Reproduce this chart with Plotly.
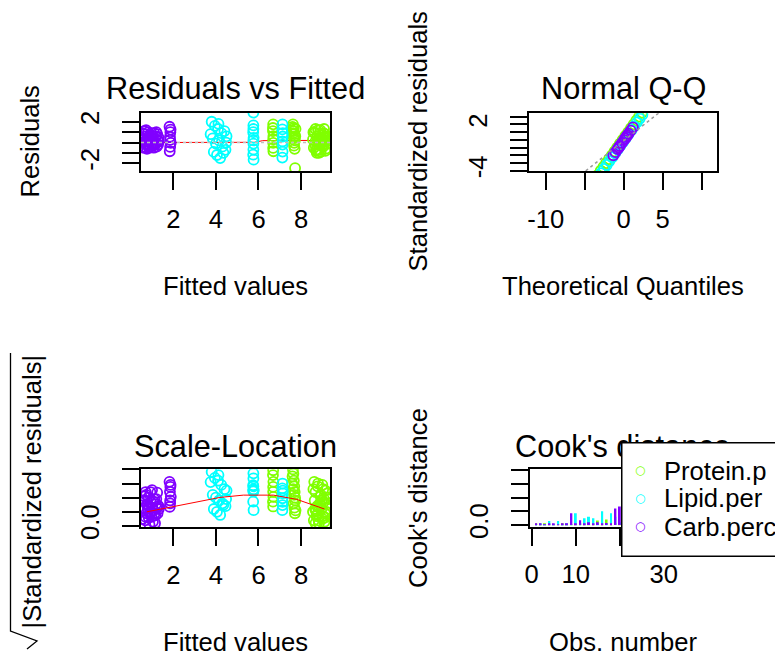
import plotly.graph_objects as go

# ---------------------------------------------------------------- data
series_names = ["Protein.p", "Lipid.per", "Carb.perc"]
series_colors = ["#80FF00", "#00FFFF", "#8000FF"]

# Residuals vs Fitted / Scale-Location (same fitted values per response)
protein_fit = [6.69, 6.68, 6.70, 6.69, 6.69, 6.70, 6.68, 6.69,
               7.62, 7.64, 7.66, 7.68, 7.70, 7.72, 7.65, 7.69, 7.71, 7.67,
               7.60, 7.74, 7.63, 7.73, 7.58,
               8.56, 8.60, 8.64, 8.68, 8.72, 8.76, 8.80, 8.84, 8.88, 8.92, 8.96, 9.00,
               9.04, 9.08, 9.12, 9.16, 9.20, 9.24, 8.62, 8.74, 8.86, 8.98, 9.10, 9.22, 8.70,
               8.58, 8.66, 8.78, 8.82, 8.90, 8.94, 9.02, 9.06, 9.14, 9.18, 9.26, 8.68,
               8.84, 9.00, 9.12]
protein_resid = [1.75, 1.1, 0.61, -0.03, -0.52, -0.84, 1.4, 0.3,
                 1.75, 1.1, 0.45, -0.03, -0.61, -2.46, 1.4, 0.8, 0.2, -0.3,
                 1.5, 1.3, 0.9, 0.6, 1.2,
                 0.3, -0.5, 0.9, 0.1, -0.8, 0.6, 1.2, -0.2, 0.4, -0.9, 0.0, 0.7,
                 -0.4, 1.3, 0.2, -0.6, 0.5, -0.1, 1.0, -1.0, 0.8, -0.3, 0.1, 0.4, -0.7,
                 1.0, -0.2, 0.3, -0.7, 1.2, 0.5, -0.3, 0.9, -0.8, 0.6, 0.2, 1.3,
                 -1.0, 0.3, 0.8]
protein_sqrt = [1.97, 1.80, 1.56, 1.38, 1.21, 1.03, 0.86, 0.69,
                2.0, 1.85, 1.6, 1.4, 1.2, 1.0, 0.8, 0.65, 0.45, 1.1,
                1.75, 0.55, 1.3, 0.9, 1.5,
                0.5, 0.2, 0.9, 1.2, 0.35, 0.7, 1.5, 0.1, 0.8, 1.05, 0.6, 0.25,
                1.3, 0.95, 0.45, 0.03, 0.75, 1.15, 1.56, 0.4, 0.65, 0.9, 0.15, 1.0, 0.55,
                1.3, 0.6, 1.4, 0.2, 0.75, 1.1, 0.35, 0.85, 1.25, 0.5, 0.95, 0.1,
                0.65, 1.45, 0.3]

lipid_fit = [3.80, 3.95, 4.10, 4.25, 4.40, 4.50, 3.85, 4.00, 4.15, 4.30, 4.45, 3.90,
             4.05, 4.20, 4.35, 3.75, 4.48, 4.12,
             5.76, 5.76, 5.75, 5.77, 5.76, 5.76, 5.75, 5.77, 5.76, 5.76,
             7.13, 7.12, 7.14, 7.13, 7.13, 7.12, 7.14, 7.13]
lipid_resid = [2.0, 1.6, 1.3, 0.9, 1.1, 0.6, 0.4, -0.1, 0.2, -0.4, -0.7, -0.9,
               -1.2, -1.5, -1.0, 0.8, 0.0, 1.8,
               2.88, 1.65, 1.0, 0.45, -0.1, -0.68, -1.17, -1.65, 1.3, 0.2,
               1.75, 1.26, 0.58, -0.2, -0.87, -1.45, 0.9, 0.1]
lipid_sqrt = [1.91, 1.70, 1.60, 1.45, 1.30, 1.25, 1.10, 1.00, 0.90, 0.80, 0.70, 0.60,
              0.50, 0.39, 0.75, 1.55, 0.95, 1.80,
              1.86, 1.68, 1.44, 1.27, 1.22, 1.30, 0.86, 0.56, 1.40, 1.25,
              1.50, 1.33, 1.15, 0.98, 0.74, 0.56, 1.25, 0.85]

carb_fit = [0.58, 0.62, 0.66, 0.70, 0.74, 0.78, 0.82, 0.86, 0.90, 0.94, 0.98, 1.02,
            1.06, 1.10, 1.14, 1.18, 1.22, 1.26, 1.30, 0.64, 0.76, 0.88, 1.00, 1.12, 1.24,
            0.60, 0.68, 0.72, 0.80, 0.84, 0.92, 0.96, 1.04, 1.08, 1.16, 1.20, 1.28,
            0.56, 0.70, 1.32,
            1.82, 1.86, 1.84, 1.88, 1.85, 1.83, 1.87, 1.85]
carb_resid = [0.3, -0.4, 0.8, 0.1, -0.2, 0.5, 1.0, -0.5, 0.2, 0.7, -0.1, 0.4,
              -0.3, 0.9, 0.0, 0.6, -0.4, 0.2, 0.5, 1.1, -0.6, 0.0, 0.3, -0.2, 0.8,
              -0.5, 0.6, 1.2, -0.3, 0.4, -0.4, 0.9, 0.6, -0.5, -0.1, 1.0, -0.2,
              0.9, -0.1, 0.1,
              1.52, 1.0, 0.55, -0.03, -0.42, -0.84, 1.25, 0.25]
carb_sqrt = [0.55, 0.63, 0.89, 0.32, 0.45, 0.71, 1.0, 0.71, 0.45, 0.84, 0.32, 0.63,
             0.55, 0.95, 0.1, 0.77, 0.63, 0.45, 0.71, 1.05, 0.78, 0.05, 1.27, 0.45, 1.18,
             0.9, 0.2, 1.1, 0.6, 0.3, 1.2, 0.5, 0.15, 0.85, 0.38, 0.95, 0.7,
             0.25, 1.2, 0.6,
             1.56, 1.38, 1.21, 1.03, 0.8, 0.68, 1.45, 0.9]

# lowess smooths
resid_smooth_x = [0.6, 2.0, 4.2, 5.8, 6.2, 6.7, 7.7, 9.0, 9.25]
resid_smooth_y = [0.0, 0.0, 0.0, 0.02, 0.18, 0.2, 0.2, 0.2, 0.2]
scale_smooth_x = [0.75, 2.0, 4.19, 5.29, 6.7, 7.8, 9.04, 9.1]
scale_smooth_y = [0.5, 0.68, 1.01, 1.09, 1.09, 0.94, 0.62, 0.6]

# Normal Q-Q
protein_theo = [-3.37, -2.95, -2.6, -2.25, -1.89, -1.53, -1.18, -0.84, -0.49,
                -0.14, 0.21, 0.57, 0.92, 1.27, 1.62, 1.97, 2.32]
protein_std = [-4.6, -4.0, -3.5, -3.0, -2.5, -2.0, -1.5, -1.0, -0.5,
               0.0, 0.5, 1.0, 1.5, 2.0, 2.5, 3.0, 3.5]
lipid_theo = [-2.91, -2.52, -2.17, -1.82, -1.47, -1.11, -0.77, -0.42, -0.06,
              0.29, 0.64, 0.99, 1.34, 1.69, 2.05, 2.40]
lipid_std = [-4.3, -3.75, -3.25, -2.75, -2.25, -1.75, -1.25, -0.75, -0.25,
             0.25, 0.75, 1.25, 1.75, 2.25, 2.75, 3.25]
carb_theo = [-1.33, -1.06, -0.78, -0.5, -0.22, 0.06, 0.34, 0.62, 0.9, 1.18, -0.64, 0.2, 0.48]
carb_std = [-2.0, -1.6, -1.2, -0.8, -0.4, 0.0, 0.4, 0.8, 1.2, 1.6, -1.0, 0.2, 0.6]
qq_intercept = -0.12
qq_slope = 0.8

# Cook's distance, observations 1..40
protein_cook = [0.006, 0.004, 0.010, 0.003, 0.005, 0.004, 0.006, 0.003, 0.005, 0.008,
                0.006, 0.010, 0.007, 0.012, 0.032, 0.009, 0.041, 0.011, 0.015, 0.012,
                0.02, 0.05, 0.03, 0.08, 0.04, 0.11, 0.06, 0.05, 0.14, 0.07,
                0.09, 0.18, 0.06, 0.12, 0.22, 0.08, 0.15, 0.10, 0.26, 0.13]
lipid_cook = [0.004, 0.006, 0.003, 0.030, 0.005, 0.030, 0.004, 0.006, 0.005, 0.085,
              0.010, 0.050, 0.060, 0.050, 0.012, 0.100, 0.008, 0.085, 0.060, 0.020,
              0.07, 0.04, 0.12, 0.06, 0.09, 0.15, 0.05, 0.19, 0.08, 0.11,
              0.24, 0.10, 0.07, 0.28, 0.13, 0.09, 0.33, 0.16, 0.12, 0.37]
carb_cook = [0.012, 0.008, 0.004, 0.006, 0.010, 0.004, 0.008, 0.008, 0.085, 0.008,
             0.035, 0.006, 0.020, 0.010, 0.020, 0.006, 0.015, 0.010, 0.120, 0.135,
             0.05, 0.09, 0.04, 0.16, 0.07, 0.11, 0.21, 0.06, 0.13, 0.25,
             0.09, 0.17, 0.30, 0.08, 0.20, 0.35, 0.12, 0.24, 0.39, 0.15]
obs_number = list(range(1, len(carb_cook) + 1))

# axis ticks and their printed labels
fitted_ticks = [2, 4, 6, 8]
fitted_labels = ["2", "4", "6", "8"]
resid_ticks = [-2, -1, 0, 1, 2]
resid_labels = ["-2", "", "", "", "2"]
qq_x_ticks = [-10, -5, 0, 5, 10]
qq_x_labels = ["-10", "", "0", "5", ""]
qq_y_ticks = [-4, -3, -2, -1, 0, 1, 2, 3]
qq_y_labels = ["-4", "", "", "", "", "", "2", ""]
scale_ticks = [0.0, 0.5, 1.0, 1.5, 2.0]
scale_labels = ["0.0", "", "", "", ""]
obs_ticks = [0, 10, 20, 30, 40]
obs_labels = ["0", "10", "", "30", ""]
cook_ticks = [0.0, 0.1, 0.2, 0.3, 0.4]
cook_labels = ["0.0", "", "", "", ""]

# ---------------------------------------------------------------- layout helpers
W, H = 775, 655
FONT = "Liberation Sans, Arial, sans-serif"
LAB = 25.6
MAIN = 30.7


def px(x):
    return x / W


def py(y):
    return 1 - y / H


def axis(dom, rng, tickvals, ticktext, anchor, vertical=False):
    d = dict(domain=dom, range=rng, anchor=anchor, tickmode="array",
             tickvals=tickvals, ticktext=ticktext, showline=True, linecolor="black",
             linewidth=2, mirror=True, ticks="outside", ticklen=17, tickwidth=2,
             tickcolor="black", showgrid=False, zeroline=False, automargin=False,
             tickfont=dict(family=FONT, size=LAB, color="black"),
             ticklabelstandoff=7)
    if vertical:
        d["tickangle"] = -90
        d["ticklabelstandoff"] = 13
    return d


fig = go.Figure()

responses = [
    (protein_fit, protein_resid, protein_sqrt, protein_theo, protein_std, protein_cook),
    (lipid_fit, lipid_resid, lipid_sqrt, lipid_theo, lipid_std, lipid_cook),
    (carb_fit, carb_resid, carb_sqrt, carb_theo, carb_std, carb_cook),
]
marker_style = dict(symbol="circle-open", size=10)

# Residuals vs Fitted
fig.add_trace(go.Scatter(x=resid_smooth_x, y=resid_smooth_y, mode="lines",
                         line=dict(color="#FF0000", width=1), xaxis="x", yaxis="y",
                         showlegend=False))
for (fit, res, sq, th, st, ck), name, col in zip(responses, series_names, series_colors):
    fig.add_trace(go.Scatter(x=fit, y=res, mode="markers", name=name,
                             marker=dict(color=col, line=dict(width=1.8), **marker_style),
                             xaxis="x", yaxis="y", showlegend=False))

# Normal Q-Q
qq_x_range = [-12.1, 12.0]
for (fit, res, sq, th, st, ck), name, col in zip(responses, series_names, series_colors):
    fig.add_trace(go.Scatter(x=th, y=st, mode="markers", name=name,
                             marker=dict(color=col, line=dict(width=1.8), **marker_style),
                             xaxis="x2", yaxis="y2", showlegend=False))
fig.add_trace(go.Scatter(x=qq_x_range, y=[qq_intercept + qq_slope * v for v in qq_x_range],
                         mode="lines", line=dict(color="#9A9A9A", width=1.5, dash="3px,3px"),
                         xaxis="x2", yaxis="y2", showlegend=False))

# Scale-Location
for (fit, res, sq, th, st, ck), name, col in zip(responses, series_names, series_colors):
    fig.add_trace(go.Scatter(x=fit, y=sq, mode="markers", name=name,
                             marker=dict(color=col, line=dict(width=1.8), **marker_style),
                             xaxis="x3", yaxis="y3", showlegend=False))
fig.add_trace(go.Scatter(x=scale_smooth_x, y=scale_smooth_y, mode="lines",
                         line=dict(color="#FF0000", width=1), xaxis="x3", yaxis="y3",
                         showlegend=False))

# Cook's distance
for (fit, res, sq, th, st, ck), name, col in zip(responses, series_names, series_colors):
    fig.add_trace(go.Bar(x=obs_number, y=ck, width=0.45, name=name,
                         marker=dict(color=col, line=dict(width=0)),
                         xaxis="x4", yaxis="y4", showlegend=False))

# panel boxes (pixel positions of the plot regions)
p1x, p1y = [px(141), px(330)], [py(171), py(112.7)]
p2x, p2y = [px(529.3), px(717.3)], [py(171), py(113.3)]
p3x, p3y = [px(141), px(330)], [py(527.3), py(469.3)]
p4x, p4y = [px(530), px(718)], [py(526.5), py(469.3)]

fig.update_layout(
    width=W, height=H, margin=dict(l=0, r=0, t=0, b=0, pad=0, autoexpand=False),
    paper_bgcolor="white", plot_bgcolor="white", barmode="overlay", showlegend=False,
    font=dict(family=FONT, color="black"),
    xaxis=axis(p1x, [0.48, 9.36], fitted_ticks, fitted_labels, "y"),
    yaxis=axis(p1y, [-2.74, 2.87], resid_ticks, resid_labels, "x", True),
    xaxis2=axis(p2x, qq_x_range, qq_x_ticks, qq_x_labels, "y2"),
    yaxis2=axis(p2y, [-4.03, 3.43], qq_y_ticks, qq_y_labels, "x2", True),
    xaxis3=axis(p3x, [0.48, 9.36], fitted_ticks, fitted_labels, "y3"),
    yaxis3=axis(p3y, [-0.046, 2.003], scale_ticks, scale_labels, "x3", True),
    xaxis4=axis(p4x, [-0.39, 42.3], obs_ticks, obs_labels, "y4"),
    yaxis4=axis(p4y, [-0.011, 0.407], cook_ticks, cook_labels, "x4", True),
)

# reference line at zero residual
fig.add_shape(type="line", xref="x domain", yref="y", x0=0, x1=1, y0=0, y1=0,
              line=dict(color="#BEBEBE", width=1.5, dash="3px,3px"), layer="above")

# radical sign over the rotated Scale-Location axis label
fig.add_shape(type="path", xref="paper", yref="paper", layer="above",
              path=(f"M {px(27)} {py(649)} L {px(37)} {py(641)} "
                    f"L {px(10.5)} {py(631)} L {px(10.5)} {py(353)}"),
              line=dict(color="black", width=1.3))


def text(s, x, y, size, angle=0, xanchor="center", **kw):
    fig.add_annotation(text=s, x=px(x), y=py(y), xref="paper", yref="paper",
                       xanchor=xanchor, yanchor="middle",
                       showarrow=False, textangle=angle,
                       font=dict(family=FONT, size=size, color="black"), **kw)


# panel titles
text("Residuals vs Fitted", 235.5, 89, MAIN)
text("Normal Q-Q", 623.3, 89, MAIN)
text("Scale-Location", 235.5, 446, MAIN)
text("Cook's distance", 623.3, 446, MAIN)

# axis titles
text("Fitted values", 235.5, 286, LAB)
text("Theoretical Quantiles", 623.3, 286, LAB)
text("Fitted values", 235.5, 642, LAB)
text("Obs. number", 623.3, 642, LAB)
text("Residuals", 29.5, 142, LAB, -90)
text("Standardized residuals", 417.5, 142, LAB, -90)
text("|Standardized residuals|", 31, 491.5, LAB, -90)
text("Cook's distance", 418, 498, LAB, -90)

# legend box drawn over the Cook's distance panel
fig.add_annotation(text=" ", x=px(620.5), y=py(441.5), xref="paper", yref="paper",
                   xanchor="left", yanchor="top", showarrow=False, width=220, height=112,
                   bgcolor="white", bordercolor="black", borderwidth=1.5, borderpad=0)
legend_rows = [471, 498.5, 527]
for name, col, ry in zip(series_names, series_colors, legend_rows):
    fig.add_annotation(text="<b>\u25CB</b>", x=px(640), y=py(ry - 1), xref="paper",
                       yref="paper", xanchor="center", yanchor="middle", showarrow=False,
                       font=dict(family="DejaVu Sans", size=12, color=col))
    text(name, 662, ry, LAB, xanchor="left")

fig.write_html("out.html")
